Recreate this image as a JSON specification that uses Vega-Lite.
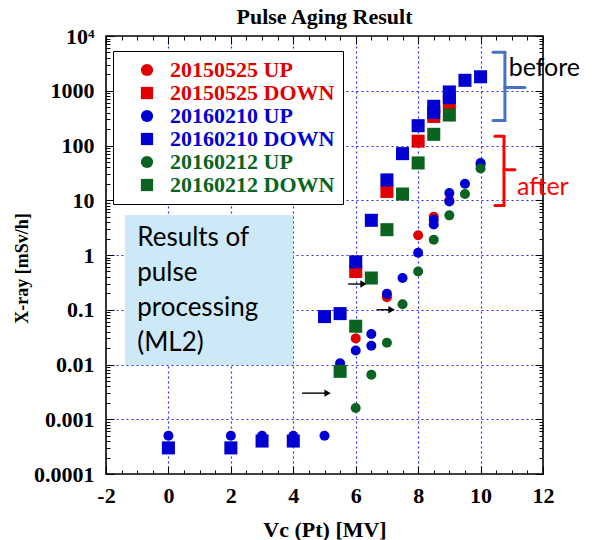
{
  "$schema": "https://vega.github.io/schema/vega-lite/v6.json",
  "width": 437,
  "height": 438,
  "autosize": {"type": "none"},
  "padding": {"left": 106, "top": 36, "right": 49, "bottom": 66},
  "background": "white",
  "title": {"text": "Pulse Aging Result", "font": "Liberation Serif", "fontSize": 22, "fontWeight": "bold", "color": "black", "offset": -4, "anchor": "middle"},
  "config": {"view": {"stroke": "black", "strokeWidth": 1.6}},
  "datasets": {
    "pts": [
      {"s": "20150525 UP", "v": 6, "r": 0.03},
      {"s": "20150525 UP", "v": 7, "r": 0.17},
      {"s": "20150525 UP", "v": 8, "r": 2.3},
      {"s": "20150525 UP", "v": 8.5, "r": 5.0},
      {"s": "20150525 UP", "v": 9, "r": 10},
      {"s": "20150525 UP", "v": 10, "r": 45},
      {"s": "20150525 DOWN", "v": 6, "r": 0.5},
      {"s": "20150525 DOWN", "v": 7, "r": 14.5},
      {"s": "20150525 DOWN", "v": 8, "r": 120},
      {"s": "20150525 DOWN", "v": 8.5, "r": 340},
      {"s": "20150525 DOWN", "v": 9, "r": 600},
      {"s": "20160210 UP", "v": 0, "r": 0.0005},
      {"s": "20160210 UP", "v": 2, "r": 0.0005},
      {"s": "20160210 UP", "v": 3, "r": 0.0005},
      {"s": "20160210 UP", "v": 4, "r": 0.0005},
      {"s": "20160210 UP", "v": 5, "r": 0.0005},
      {"s": "20160210 UP", "v": 5.5, "r": 0.0105},
      {"s": "20160210 UP", "v": 6, "r": 0.018},
      {"s": "20160210 UP", "v": 6.5, "r": 0.036},
      {"s": "20160210 UP", "v": 6.5, "r": 0.022},
      {"s": "20160210 UP", "v": 7, "r": 0.195},
      {"s": "20160210 UP", "v": 7.5, "r": 0.38},
      {"s": "20160210 UP", "v": 8, "r": 1.1},
      {"s": "20160210 UP", "v": 8.5, "r": 3.6},
      {"s": "20160210 UP", "v": 8.5, "r": 4.4},
      {"s": "20160210 UP", "v": 9, "r": 9.5},
      {"s": "20160210 UP", "v": 9, "r": 13.5},
      {"s": "20160210 UP", "v": 9.5, "r": 20},
      {"s": "20160210 UP", "v": 10, "r": 48},
      {"s": "20160210 DOWN", "v": 0, "r": 0.0003},
      {"s": "20160210 DOWN", "v": 2, "r": 0.0003},
      {"s": "20160210 DOWN", "v": 3, "r": 0.0004},
      {"s": "20160210 DOWN", "v": 4, "r": 0.0004},
      {"s": "20160210 DOWN", "v": 5, "r": 0.075},
      {"s": "20160210 DOWN", "v": 5.5, "r": 0.085},
      {"s": "20160210 DOWN", "v": 6, "r": 0.75},
      {"s": "20160210 DOWN", "v": 6.5, "r": 4.3},
      {"s": "20160210 DOWN", "v": 7, "r": 23.5},
      {"s": "20160210 DOWN", "v": 7.5, "r": 71},
      {"s": "20160210 DOWN", "v": 8, "r": 230},
      {"s": "20160210 DOWN", "v": 8.5, "r": 400},
      {"s": "20160210 DOWN", "v": 8.5, "r": 520},
      {"s": "20160210 DOWN", "v": 9, "r": 750},
      {"s": "20160210 DOWN", "v": 9, "r": 950},
      {"s": "20160210 DOWN", "v": 9.5, "r": 1550},
      {"s": "20160210 DOWN", "v": 10, "r": 1800},
      {"s": "20160212 UP", "v": 6, "r": 0.0016},
      {"s": "20160212 UP", "v": 6.5, "r": 0.0065},
      {"s": "20160212 UP", "v": 7, "r": 0.025},
      {"s": "20160212 UP", "v": 7.5, "r": 0.126},
      {"s": "20160212 UP", "v": 8, "r": 0.5},
      {"s": "20160212 UP", "v": 8.5, "r": 1.9},
      {"s": "20160212 UP", "v": 9, "r": 5.3},
      {"s": "20160212 UP", "v": 9.5, "r": 13},
      {"s": "20160212 UP", "v": 10, "r": 38},
      {"s": "20160212 DOWN", "v": 5.5, "r": 0.0075},
      {"s": "20160212 DOWN", "v": 6, "r": 0.05},
      {"s": "20160212 DOWN", "v": 6.5, "r": 0.38},
      {"s": "20160212 DOWN", "v": 7, "r": 2.9},
      {"s": "20160212 DOWN", "v": 7.5, "r": 13},
      {"s": "20160212 DOWN", "v": 8, "r": 48},
      {"s": "20160212 DOWN", "v": 8.5, "r": 160},
      {"s": "20160212 DOWN", "v": 9, "r": 360}
    ],
    "box": [{"x": -1.39, "x2": 3.99, "y": 0.0098, "y2": 5.4}],
    "boxtext": [
      {"x": -1.0, "y": 2.06, "t": "Results of"},
      {"x": -1.0, "y": 0.47, "t": "pulse"},
      {"x": -1.0, "y": 0.108, "t": "processing"},
      {"x": -1.0, "y": 0.0248, "t": "(ML2)"}
    ],
    "arrows": [
      {"x": 5.76, "x2": 6.25, "y": 0.295},
      {"x": 6.67, "x2": 7.15, "y": 0.1},
      {"x": 4.28, "x2": 5.1, "y": 0.003}
    ],
    "brackets": [
      {"x": 10.78, "x2": 10.78, "y": 286, "y2": 5030, "c": "#4472c4"},
      {"x": 10.4, "x2": 10.78, "y": 5030, "y2": 5030, "c": "#4472c4"},
      {"x": 10.4, "x2": 10.78, "y": 286, "y2": 286, "c": "#4472c4"},
      {"x": 10.78, "x2": 11.42, "y": 1150, "y2": 1150, "c": "#4472c4"},
      {"x": 10.75, "x2": 10.75, "y": 8, "y2": 147, "c": "#ff0000"},
      {"x": 10.46, "x2": 10.75, "y": 147, "y2": 147, "c": "#ff0000"},
      {"x": 10.46, "x2": 10.75, "y": 8, "y2": 8, "c": "#ff0000"},
      {"x": 10.75, "x2": 11.1, "y": 36, "y2": 36, "c": "#ff0000"}
    ],
    "notes": [
      {"x": 10.9, "y": 2650, "t": "before", "c": "black"},
      {"x": 11.17, "y": 17.7, "t": "after", "c": "#ff0000"}
    ]
  },
  "resolve": {"axis": {"x": "independent", "y": "independent"}},
  "layer": [
    {
      "data": {"name": "box"},
      "mark": {"type": "rect", "fill": "#cde9f8"},
      "encoding": {
        "x": {"field": "x", "type": "quantitative",
          "scale": {"domain": [-2, 12], "nice": false, "zero": false},
          "axis": {
            "orient": "bottom",
            "values": [0, 2, 4, 6, 8, 10],
            "labels": false, "ticks": false, "domain": false, "title": null,
            "grid": true, "gridColor": "#2b2bff", "gridDash": [2, 3], "gridWidth": 1.2
          }
        },
        "x2": {"field": "x2"},
        "y": {"field": "y", "type": "quantitative",
          "scale": {"type": "log", "domain": [0.0001, 10000], "nice": false},
          "axis": {
            "orient": "left",
            "values": [0.001, 0.01, 0.1, 1, 10, 100, 1000],
            "labels": false, "ticks": false, "domain": false, "title": null,
            "grid": true, "gridColor": "#2b2bff", "gridDash": [2, 3], "gridWidth": 1.2
          }
        },
        "y2": {"field": "y2"}
      }
    },
    {
      "data": {"name": "box"},
      "mark": {"type": "rect", "fill": "#cde9f8"},
      "encoding": {
        "x": {"field": "x", "type": "quantitative",
          "axis": {
            "orient": "bottom",
            "values": [-2,-1.5,-1,-0.5,0,0.5,1,1.5,2,2.5,3,3.5,4,4.5,5,5.5,6,6.5,7,7.5,8,8.5,9,9.5,10,10.5,11,11.5,12],
            "labelExpr": "datum.value % 2 === 0 ? '' + datum.value : ''",
            "grid": false,
            "tickSize": {"condition": {"test": "datum.value % 2 === 0", "value": -8}, "value": -4},
            "tickColor": "black", "tickWidth": 1, "domain": false,
            "labelFont": "Liberation Serif", "labelFontWeight": "bold", "labelFontSize": 22, "labelColor": "black",
            "labelPadding": 19, "labelFlush": false, "labelOverlap": false,
            "title": "Vc (Pt) [MV]", "titleFont": "Liberation Serif", "titleFontSize": 22, "titleFontWeight": "bold", "titleColor": "black", "titlePadding": 9
          }
        },
        "x2": {"field": "x2"},
        "y": {"field": "y", "type": "quantitative",
          "axis": {
            "orient": "left",
            "values": [0.0001,0.0002,0.0003,0.0004,0.0005,0.0006,0.0007,0.0008,0.0009,0.001,0.002,0.003,0.004,0.005,0.006,0.007,0.008,0.009,0.01,0.02,0.03,0.04,0.05,0.06,0.07,0.08,0.09,0.1,0.2,0.3,0.4,0.5,0.6,0.7,0.8,0.9,1,2,3,4,5,6,7,8,9,10,20,30,40,50,60,70,80,90,100,200,300,400,500,600,700,800,900,1000,2000,3000,4000,5000,6000,7000,8000,9000,10000],
            "labelExpr": "datum.value == 10000 ? '10⁴' : (indexof([0.0001,0.001,0.01,0.1,1,10,100,1000], datum.value) >= 0 ? '' + datum.value : '')",
            "grid": false,
            "tickSize": {"condition": {"test": "indexof([0.0001,0.001,0.01,0.1,1,10,100,1000,10000], datum.value) >= 0", "value": -8}, "value": -4},
            "tickColor": "black", "tickWidth": 1, "domain": false,
            "labelFont": "Liberation Serif", "labelFontWeight": "bold", "labelFontSize": 22, "labelColor": "black",
            "labelPadding": 20, "labelFlush": false, "labelOverlap": false,
            "title": "X-ray [mSv/h]", "titleFont": "Liberation Serif", "titleFontSize": 18, "titleFontWeight": "bold", "titleColor": "black",
            "titleX": -84, "titleY": 232, "titleBaseline": "middle", "titleAngle": -90
          }
        },
        "y2": {"field": "y2"}
      }
    },
    {
      "data": {"name": "boxtext"},
      "mark": {"type": "text", "align": "left", "baseline": "middle", "font": "Lato", "fontSize": 26, "color": "black"},
      "encoding": {
        "x": {"field": "x", "type": "quantitative", "axis": null},
        "y": {"field": "y", "type": "quantitative", "axis": null},
        "text": {"field": "t"}
      }
    },
    {
      "data": {"name": "arrows"},
      "mark": {"type": "rule", "color": "black", "strokeWidth": 1.4},
      "encoding": {
        "x": {"field": "x", "type": "quantitative", "axis": null},
        "x2": {"field": "x2"},
        "y": {"field": "y", "type": "quantitative", "axis": null}
      }
    },
    {
      "data": {"name": "arrows"},
      "mark": {"type": "point", "shape": "triangle-right", "filled": true, "color": "black", "size": 55, "opacity": 1},
      "encoding": {
        "x": {"field": "x2", "type": "quantitative", "axis": null},
        "y": {"field": "y", "type": "quantitative", "axis": null}
      }
    },
    {
      "data": {"name": "pts"},
      "mark": {"type": "point", "filled": true, "opacity": 1},
      "encoding": {
        "x": {"field": "v", "type": "quantitative",
          "axis": {
            "orient": "top",
            "values": [-2,-1.5,-1,-0.5,0,0.5,1,1.5,2,2.5,3,3.5,4,4.5,5,5.5,6,6.5,7,7.5,8,8.5,9,9.5,10,10.5,11,11.5,12],
            "labels": false, "grid": false, "domain": false, "title": null,
            "tickSize": {"condition": {"test": "datum.value % 2 === 0", "value": -8}, "value": -4},
            "tickColor": "black", "tickWidth": 1
          }
        },
        "y": {"field": "r", "type": "quantitative",
          "axis": {
            "orient": "right",
            "values": [0.0001,0.0002,0.0003,0.0004,0.0005,0.0006,0.0007,0.0008,0.0009,0.001,0.002,0.003,0.004,0.005,0.006,0.007,0.008,0.009,0.01,0.02,0.03,0.04,0.05,0.06,0.07,0.08,0.09,0.1,0.2,0.3,0.4,0.5,0.6,0.7,0.8,0.9,1,2,3,4,5,6,7,8,9,10,20,30,40,50,60,70,80,90,100,200,300,400,500,600,700,800,900,1000,2000,3000,4000,5000,6000,7000,8000,9000,10000],
            "labels": false, "grid": false, "domain": false, "title": null,
            "tickSize": {"condition": {"test": "indexof([0.0001,0.001,0.01,0.1,1,10,100,1000,10000], datum.value) >= 0", "value": -8}, "value": -4},
            "tickColor": "black", "tickWidth": 1
          }
        },
        "color": {"field": "s", "type": "nominal",
          "scale": {"domain": ["20150525 UP", "20150525 DOWN", "20160210 UP", "20160210 DOWN", "20160212 UP", "20160212 DOWN"],
                    "range": ["#e00000", "#e00000", "#0000d0", "#0000d0", "#0a6420", "#0a6420"]},
          "legend": {"orient": "none", "legendX": 7, "legendY": 15, "title": null, "padding": 8,
            "strokeColor": "black", "fillColor": "white",
            "labelFont": "Liberation Serif", "labelFontSize": 22, "labelFontWeight": "bold",
            "labelColor": {"expr": "indexof(datum.value, '20150525') >= 0 ? '#e00000' : (indexof(datum.value, '20160210') >= 0 ? '#0000d0' : '#0a6420')"},
            "symbolSize": 150, "symbolOffset": 15, "labelOffset": 12, "rowPadding": 1, "symbolStrokeWidth": 0,
            "labelLimit": 300}
        },
        "shape": {"field": "s", "type": "nominal",
          "scale": {"domain": ["20150525 UP", "20150525 DOWN", "20160210 UP", "20160210 DOWN", "20160212 UP", "20160212 DOWN"],
                    "range": ["circle", "square", "circle", "square", "circle", "square"]},
          "legend": {"orient": "none", "legendX": 7, "legendY": 15, "title": null, "padding": 8,
            "strokeColor": "black", "fillColor": "white",
            "labelFont": "Liberation Serif", "labelFontSize": 22, "labelFontWeight": "bold",
            "labelColor": {"expr": "indexof(datum.value, '20150525') >= 0 ? '#e00000' : (indexof(datum.value, '20160210') >= 0 ? '#0000d0' : '#0a6420')"},
            "symbolSize": 150, "symbolOffset": 15, "labelOffset": 12, "rowPadding": 1, "symbolStrokeWidth": 0,
            "labelLimit": 300}
        },
        "size": {"condition": {"test": "indexof(datum.s, 'UP') >= 0", "value": 100}, "value": 170}
      }
    },
    {
      "data": {"name": "brackets"},
      "mark": {"type": "rule", "strokeWidth": 3, "strokeCap": "round"},
      "encoding": {
        "x": {"field": "x", "type": "quantitative", "axis": null},
        "x2": {"field": "x2"},
        "y": {"field": "y", "type": "quantitative", "axis": null},
        "y2": {"field": "y2"},
        "stroke": {"field": "c", "type": "nominal", "scale": null}
      }
    },
    {
      "data": {"name": "notes"},
      "mark": {"type": "text", "align": "left", "baseline": "middle", "font": "Lato", "fontSize": 25},
      "encoding": {
        "x": {"field": "x", "type": "quantitative", "axis": null},
        "y": {"field": "y", "type": "quantitative", "axis": null},
        "text": {"field": "t"},
        "fill": {"field": "c", "type": "nominal", "scale": null}
      }
    }
  ]
}
